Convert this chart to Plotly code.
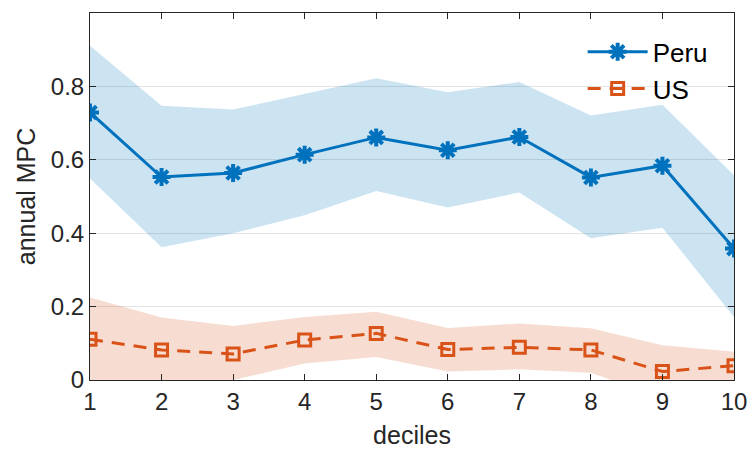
import plotly.graph_objects as go

deciles = [1, 2, 3, 4, 5, 6, 7, 8, 9, 10]
peru = [0.729, 0.553, 0.564, 0.614, 0.661, 0.626, 0.662, 0.552, 0.584, 0.358]
peru_upper = [0.911, 0.747, 0.737, 0.780, 0.822, 0.784, 0.812, 0.721, 0.750, 0.558]
peru_lower = [0.549, 0.362, 0.400, 0.449, 0.515, 0.470, 0.511, 0.386, 0.415, 0.172]
us = [0.111, 0.082, 0.071, 0.109, 0.127, 0.083, 0.089, 0.082, 0.023, 0.039]
us_upper = [0.225, 0.170, 0.147, 0.172, 0.186, 0.142, 0.154, 0.141, 0.095, 0.077]
us_lower = [-0.02, -0.01, 0.0, 0.045, 0.063, 0.023, 0.029, 0.020, -0.05, -0.01]
ytick_vals = [0, 0.2, 0.4, 0.6, 0.8]
ytick_text = ["0", "0.2", "0.4", "0.6", "0.8"]

BLUE = "#0072BD"
ORANGE = "#D95319"
AX = "#262626"
FONT = "Liberation Sans, Arial, sans-serif"

fig = go.Figure()

fig.add_trace(go.Scatter(
    x=deciles + deciles[::-1], y=peru_upper + peru_lower[::-1],
    fill="toself", fillcolor="rgba(0,114,189,0.2)", line=dict(width=0),
    mode="lines", showlegend=False, hoverinfo="skip"))
fig.add_trace(go.Scatter(
    x=deciles + deciles[::-1], y=us_upper + us_lower[::-1],
    fill="toself", fillcolor="rgba(217,83,25,0.2)", line=dict(width=0),
    mode="lines", showlegend=False, hoverinfo="skip"))

fig.add_trace(go.Scatter(
    x=deciles, y=peru, name="Peru", mode="lines+markers",
    line=dict(color=BLUE, width=3),
    marker=dict(symbol="asterisk-open", size=15, color=BLUE,
                line=dict(color=BLUE, width=4))))
fig.add_trace(go.Scatter(
    x=deciles, y=us, name="US", mode="lines+markers",
    line=dict(color=ORANGE, width=3, dash="13px,9px"),
    marker=dict(symbol="square-open", size=12, color=ORANGE,
                line=dict(color=ORANGE, width=3))))

fig.update_layout(
    width=749, height=455,
    margin=dict(l=90, r=15, t=13, b=75, autoexpand=False),
    paper_bgcolor="white", plot_bgcolor="white",
    font=dict(family=FONT, color=AX, size=24),
    legend=dict(x=0.765, y=0.958, xanchor="left", yanchor="top",
                bgcolor="rgba(0,0,0,0)", font=dict(size=26, color="black"),
                itemwidth=60, tracegroupgap=0),
    xaxis=dict(range=[1, 10], tickvals=deciles, ticks="inside", ticklen=6,
               tickcolor=AX, showline=True, linecolor=AX, linewidth=1,
               mirror="ticks", showgrid=False, zeroline=False, automargin=False,
               title=dict(text="deciles", font=dict(size=25), standoff=12),
               tickfont=dict(size=24)),
    yaxis=dict(range=[0, 1], tickvals=ytick_vals, ticktext=ytick_text,
               ticks="inside", ticklen=6, tickcolor=AX, showline=True,
               linecolor=AX, linewidth=1, mirror="ticks", showgrid=True,
               gridcolor="#e3e3e3", gridwidth=1, zeroline=False, automargin=False,
               title=dict(text="annual MPC", font=dict(size=25), standoff=8),
               tickfont=dict(size=24)),
)

fig.write_html("out.html", config={"displayModeBar": False},
               post_script="document.body.style.margin='0';document.body.style.overflow='hidden';")
